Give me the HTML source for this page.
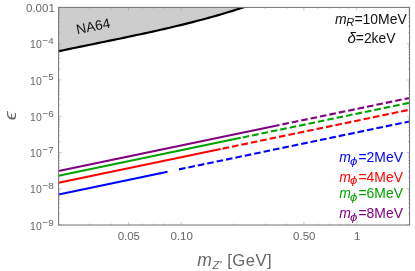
<!DOCTYPE html>
<html><head><meta charset="utf-8"><title>plot</title>
<style>
html,body{margin:0;padding:0;background:#fff;}
body{width:415px;height:271px;overflow:hidden;}
svg{display:block;will-change:transform;}
text{font-family:"Liberation Sans",sans-serif;}
.tk{font-size:11.5px;fill:#666;}
.i{font-style:italic;}
</style></head><body>
<svg width="415" height="271" viewBox="0 0 415 271">
<rect x="0" y="0" width="415" height="271" fill="#ffffff"/>

<clipPath id="c"><rect x="58.6" y="7.4" width="350.95" height="217.6"/></clipPath><g clip-path="url(#c)">
<polygon points="56.6,3.4000000000000004 56.6,51.71 60.6,50.85 64.6,50.00 68.6,49.16 72.6,48.32 76.6,47.48 80.6,46.65 84.6,45.83 88.6,45.00 92.6,44.18 96.6,43.36 100.6,42.54 104.6,41.72 108.6,40.90 112.6,40.08 116.6,39.26 120.6,38.43 124.6,37.60 128.6,36.76 132.6,35.92 136.6,35.07 140.6,34.21 144.6,33.35 148.6,32.48 152.6,31.60 156.6,30.71 160.6,29.81 164.6,28.89 168.6,27.97 172.6,27.03 176.6,26.07 180.6,25.11 184.6,24.12 188.6,23.12 192.6,22.11 196.6,21.07 200.6,20.02 204.6,18.95 208.6,17.86 212.6,16.75 216.6,15.61 220.6,14.46 224.6,13.28 228.6,12.07 232.6,10.85 236.6,9.59 240.6,8.31 244.6,7.01 248.6,5.67 252.6,4.31 252.6,3.4000000000000004" fill="#cdcdcd"/>
<polyline points="56.6,51.71 60.6,50.85 64.6,50.00 68.6,49.16 72.6,48.32 76.6,47.48 80.6,46.65 84.6,45.83 88.6,45.00 92.6,44.18 96.6,43.36 100.6,42.54 104.6,41.72 108.6,40.90 112.6,40.08 116.6,39.26 120.6,38.43 124.6,37.60 128.6,36.76 132.6,35.92 136.6,35.07 140.6,34.21 144.6,33.35 148.6,32.48 152.6,31.60 156.6,30.71 160.6,29.81 164.6,28.89 168.6,27.97 172.6,27.03 176.6,26.07 180.6,25.11 184.6,24.12 188.6,23.12 192.6,22.11 196.6,21.07 200.6,20.02 204.6,18.95 208.6,17.86 212.6,16.75 216.6,15.61 220.6,14.46 224.6,13.28 228.6,12.07 232.6,10.85 236.6,9.59 240.6,8.31 244.6,7.01 248.6,5.67 252.6,4.31" fill="none" stroke="#000" stroke-width="2.15" stroke-linejoin="round"/>
</g>
<g clip-path="url(#c)">
<line x1="58.6" y1="194.43" x2="167.6" y2="171.76" stroke="#0000ff" stroke-width="2.1"/>
<line x1="179.0" y1="169.39" x2="409.55" y2="121.43" stroke="#0000ff" stroke-width="2.1" stroke-dasharray="6.6 3"/>
<line x1="58.6" y1="182.73" x2="220.7" y2="149.01" stroke="#ff0000" stroke-width="2.1"/>
<line x1="222.6" y1="148.62" x2="409.55" y2="109.73" stroke="#ff0000" stroke-width="2.1" stroke-dasharray="6.6 3"/>
<line x1="58.6" y1="175.73" x2="240.8" y2="137.83" stroke="#00a200" stroke-width="2.1"/>
<line x1="242.7" y1="137.44" x2="409.55" y2="102.73" stroke="#00a200" stroke-width="2.1" stroke-dasharray="6.6 3"/>
<line x1="58.6" y1="170.93" x2="279.5" y2="124.98" stroke="#800080" stroke-width="2.1"/>
<line x1="282.4" y1="124.38" x2="409.55" y2="97.93" stroke="#800080" stroke-width="2.1" stroke-dasharray="6.6 3"/>
<circle cx="160.3" cy="173.4" r="0.9" fill="#0000ff"/>
</g>
<path d="M58.6 225.00h3M409.55 225.00h-3M58.6 214.08h1.5M409.55 214.08h-1.5M58.6 207.70h1.5M409.55 207.70h-1.5M58.6 203.17h1.5M409.55 203.17h-1.5M58.6 199.65h1.5M409.55 199.65h-1.5M58.6 196.78h1.5M409.55 196.78h-1.5M58.6 194.35h1.5M409.55 194.35h-1.5M58.6 192.25h1.5M409.55 192.25h-1.5M58.6 190.39h1.5M409.55 190.39h-1.5M58.6 188.73h3M409.55 188.73h-3M58.6 177.82h1.5M409.55 177.82h-1.5M58.6 171.43h1.5M409.55 171.43h-1.5M58.6 166.90h1.5M409.55 166.90h-1.5M58.6 163.38h1.5M409.55 163.38h-1.5M58.6 160.51h1.5M409.55 160.51h-1.5M58.6 158.08h1.5M409.55 158.08h-1.5M58.6 155.98h1.5M409.55 155.98h-1.5M58.6 154.13h1.5M409.55 154.13h-1.5M58.6 152.47h3M409.55 152.47h-3M58.6 141.55h1.5M409.55 141.55h-1.5M58.6 135.16h1.5M409.55 135.16h-1.5M58.6 130.63h1.5M409.55 130.63h-1.5M58.6 127.12h1.5M409.55 127.12h-1.5M58.6 124.25h1.5M409.55 124.25h-1.5M58.6 121.82h1.5M409.55 121.82h-1.5M58.6 119.71h1.5M409.55 119.71h-1.5M58.6 117.86h1.5M409.55 117.86h-1.5M58.6 116.20h3M409.55 116.20h-3M58.6 105.28h1.5M409.55 105.28h-1.5M58.6 98.90h1.5M409.55 98.90h-1.5M58.6 94.37h1.5M409.55 94.37h-1.5M58.6 90.85h1.5M409.55 90.85h-1.5M58.6 87.98h1.5M409.55 87.98h-1.5M58.6 85.55h1.5M409.55 85.55h-1.5M58.6 83.45h1.5M409.55 83.45h-1.5M58.6 81.59h1.5M409.55 81.59h-1.5M58.6 79.93h3M409.55 79.93h-3M58.6 69.02h1.5M409.55 69.02h-1.5M58.6 62.63h1.5M409.55 62.63h-1.5M58.6 58.10h1.5M409.55 58.10h-1.5M58.6 54.58h1.5M409.55 54.58h-1.5M58.6 51.71h1.5M409.55 51.71h-1.5M58.6 49.28h1.5M409.55 49.28h-1.5M58.6 47.18h1.5M409.55 47.18h-1.5M58.6 45.33h1.5M409.55 45.33h-1.5M58.6 43.67h3M409.55 43.67h-3M58.6 32.75h1.5M409.55 32.75h-1.5M58.6 26.36h1.5M409.55 26.36h-1.5M58.6 21.83h1.5M409.55 21.83h-1.5M58.6 18.32h1.5M409.55 18.32h-1.5M58.6 15.45h1.5M409.55 15.45h-1.5M58.6 13.02h1.5M409.55 13.02h-1.5M58.6 10.91h1.5M409.55 10.91h-1.5M58.6 9.06h1.5M409.55 9.06h-1.5M58.6 7.40h3M409.55 7.40h-3M58.60 225.0v-1.5M58.60 7.4v1.5M89.50 225.0v-1.5M89.50 7.4v1.5M111.42 225.0v-1.5M111.42 7.4v1.5M128.43 225.0v-3M128.43 7.4v3M142.32 225.0v-1.5M142.32 7.4v1.5M154.07 225.0v-1.5M154.07 7.4v1.5M164.25 225.0v-1.5M164.25 7.4v1.5M173.22 225.0v-1.5M173.22 7.4v1.5M181.25 225.0v-3M181.25 7.4v3M234.07 225.0v-1.5M234.07 7.4v1.5M264.97 225.0v-1.5M264.97 7.4v1.5M286.90 225.0v-1.5M286.90 7.4v1.5M303.90 225.0v-3M303.90 7.4v3M317.80 225.0v-1.5M317.80 7.4v1.5M329.55 225.0v-1.5M329.55 7.4v1.5M339.72 225.0v-1.5M339.72 7.4v1.5M348.70 225.0v-1.5M348.70 7.4v1.5M356.73 225.0v-3M356.73 7.4v3M409.55 225.0v-1.5M409.55 7.4v1.5" stroke="#8a8a8a" stroke-width="0.6" fill="none" opacity="0.8"/>
<rect x="58.6" y="7.4" width="350.95" height="217.6" fill="none" stroke="#737373" stroke-width="1"/>
<text class="tk" x="54.8" y="11.90" text-anchor="end">0.001</text>
<text class="tk" x="30.1" y="48.37"><tspan textLength="11.6" lengthAdjust="spacingAndGlyphs">10</tspan><tspan dy="-4.2" font-size="9.8px" dx="0.8">−4</tspan></text>
<text class="tk" x="30.1" y="84.63"><tspan textLength="11.6" lengthAdjust="spacingAndGlyphs">10</tspan><tspan dy="-4.2" font-size="9.8px" dx="0.8">−5</tspan></text>
<text class="tk" x="30.1" y="120.90"><tspan textLength="11.6" lengthAdjust="spacingAndGlyphs">10</tspan><tspan dy="-4.2" font-size="9.8px" dx="0.8">−6</tspan></text>
<text class="tk" x="30.1" y="157.17"><tspan textLength="11.6" lengthAdjust="spacingAndGlyphs">10</tspan><tspan dy="-4.2" font-size="9.8px" dx="0.8">−7</tspan></text>
<text class="tk" x="30.1" y="193.43"><tspan textLength="11.6" lengthAdjust="spacingAndGlyphs">10</tspan><tspan dy="-4.2" font-size="9.8px" dx="0.8">−8</tspan></text>
<text class="tk" x="30.1" y="229.70"><tspan textLength="11.6" lengthAdjust="spacingAndGlyphs">10</tspan><tspan dy="-4.2" font-size="9.8px" dx="0.8">−9</tspan></text>
<text class="tk" x="128.83" y="240.3" text-anchor="middle">0.05</text>
<text class="tk" x="181.65" y="240.3" text-anchor="middle">0.10</text>
<text class="tk" x="304.30" y="240.3" text-anchor="middle">0.50</text>
<text class="tk" x="357.13" y="240.3" text-anchor="middle">1</text>
<text x="197.2" y="265.6" font-size="17.5px" fill="#666" class="i">m</text>
<text x="212.4" y="268.5" font-size="11.2px" fill="#666" class="i">Z'</text>
<text x="227.3" y="265.6" font-size="16.7px" letter-spacing="0.42" fill="#666">[GeV]</text>
<text transform="translate(16.4,115.8) rotate(-90) scale(1.12,0.95)" font-size="18px" fill="#666" class="i" text-anchor="middle">ϵ</text>
<text transform="translate(77.3,34.3) rotate(-11.5)" font-size="13.7px" fill="#111">NA64</text>
<text x="335" y="24" font-size="13.95px" fill="#111"><tspan class="i">m</tspan><tspan class="i" font-size="11px" dy="2.2" dx="-0.3">R</tspan><tspan dy="-2.2" dx="0.2">=10MeV</tspan></text>
<text x="347.4" y="42.9" font-size="13.8px" fill="#111"><tspan class="i" font-size="15.2px">δ</tspan>=2keV</text>
<text x="339.3" y="162.4" font-size="13.9px" fill="#0000ff" class="i">m</text>
<text transform="translate(349.9,164.8) scale(1.2,0.95)" font-size="11px" fill="#0000ff" class="i">ϕ</text>
<text x="358.5" y="162.4" font-size="13.9px" fill="#0000ff">=2MeV</text>
<text x="339.3" y="181.70000000000002" font-size="13.9px" fill="#ff0000" class="i">m</text>
<text transform="translate(349.9,184.1) scale(1.2,0.95)" font-size="11px" fill="#ff0000" class="i">ϕ</text>
<text x="358.5" y="181.70000000000002" font-size="13.9px" fill="#ff0000">=4MeV</text>
<text x="339.3" y="198.20000000000002" font-size="13.9px" fill="#00a200" class="i">m</text>
<text transform="translate(349.9,200.6) scale(1.2,0.95)" font-size="11px" fill="#00a200" class="i">ϕ</text>
<text x="358.5" y="198.20000000000002" font-size="13.9px" fill="#00a200">=6MeV</text>
<text x="339.3" y="218.20000000000002" font-size="13.9px" fill="#800080" class="i">m</text>
<text transform="translate(349.9,220.6) scale(1.2,0.95)" font-size="11px" fill="#800080" class="i">ϕ</text>
<text x="358.5" y="218.20000000000002" font-size="13.9px" fill="#800080">=8MeV</text>
</svg></body></html>
